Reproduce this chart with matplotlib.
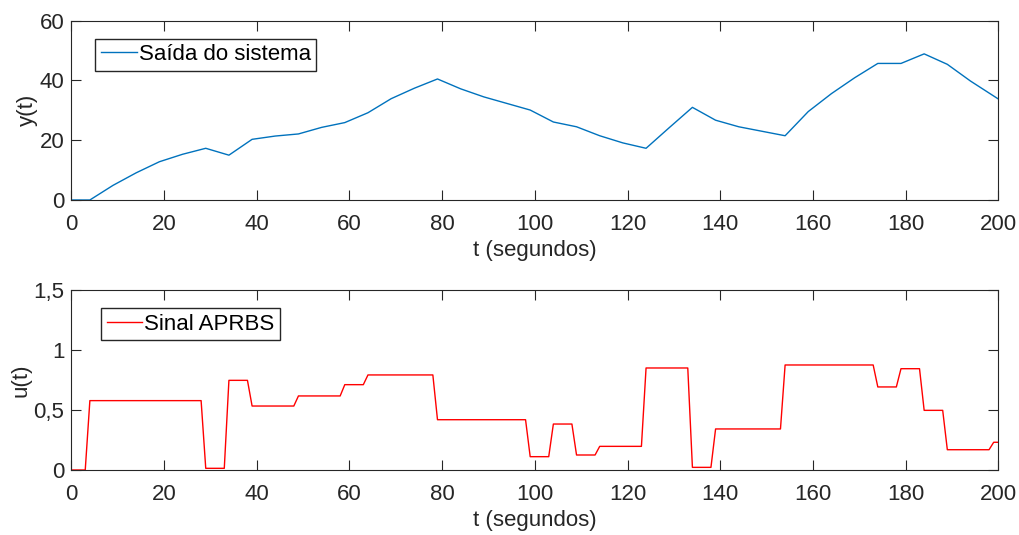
import numpy as np
import matplotlib.pyplot as plt
from matplotlib.ticker import FuncFormatter

# Saída do sistema (amostras a cada 5 s)
t_y = [0, 4, 9, 14, 19, 24, 29, 34, 39, 44, 49, 54, 59, 64, 69, 74, 79, 84, 89, 94,
       99, 104, 109, 114, 119, 124, 129, 134, 139, 144, 149, 154, 159, 164, 169, 174,
       179, 184, 189, 194, 199, 200]
y_vals = [0, 0, 4.9, 9.1, 12.8, 15.3, 17.3, 15.0, 20.3, 21.4, 22.1, 24.3, 25.9, 29.2,
          33.9, 37.4, 40.5, 37.2, 34.5, 32.3, 30.1, 26.1, 24.5, 21.5, 19.1, 17.3, 24.2,
          31.0, 26.7, 24.5, 23.0, 21.5, 29.6, 35.6, 40.9, 45.7, 45.7, 48.9, 45.4, 39.8,
          34.8, 33.8]

# Sinal APRBS: instantes de mudança e níveis
u_change = [0, 4, 29, 34, 39, 49, 59, 64, 79, 99, 104, 109, 114, 124, 134, 139, 154,
            174, 179, 184, 189, 199]
u_levels = [0, 0.578, 0.014, 0.747, 0.533, 0.617, 0.711, 0.792, 0.419, 0.111, 0.383,
            0.125, 0.197, 0.85, 0.022, 0.342, 0.875, 0.692, 0.844, 0.497, 0.169, 0.231]

t_u = np.arange(0, 201)
idx = np.searchsorted(u_change, t_u, side="right") - 1
u_vals = np.array(u_levels)[idx]

plt.rcParams['font.family'] = ['Liberation Sans', 'DejaVu Sans']
plt.rcParams['font.size'] = 16
cinza = '#262626'

fig = plt.figure(figsize=(10.19, 5.35), dpi=100)
ax1 = fig.add_axes([0.070, 0.6262, 0.9097, 0.3351])
ax2 = fig.add_axes([0.070, 0.1215, 0.9097, 0.3365])

ax1.plot(t_y, y_vals, color='#0072BD', linewidth=1, label='Saída do sistema')
ax1.set_xlim(0, 200)
ax1.set_ylim(0, 60)
ax1.set_xticks(range(0, 201, 20))
ax1.set_yticks([0, 20, 40, 60])
ax1.set_xlabel('t (segundos)')
ax1.set_ylabel('y(t)')
ax1.legend(loc='upper left', bbox_to_anchor=(0.026, 0.90), fancybox=False,
           edgecolor=cinza, framealpha=1, handlelength=1.6, handletextpad=0.1,
           borderpad=0.25, borderaxespad=0)

ax2.plot(t_u, u_vals, color='red', linewidth=1, label='Sinal APRBS')
ax2.set_xlim(0, 200)
ax2.set_ylim(0, 1.5)
ax2.set_xticks(range(0, 201, 20))
ax2.set_yticks([0, 0.5, 1, 1.5])
ax2.yaxis.set_major_formatter(FuncFormatter(lambda v, p: f'{v:g}'.replace('.', ',')))
ax2.set_xlabel('t (segundos)')
ax2.set_ylabel('u(t)')
ax2.legend(loc='upper left', bbox_to_anchor=(0.032, 0.9), fancybox=False,
           edgecolor=cinza, framealpha=1, handlelength=1.6, handletextpad=0.1,
           borderpad=0.25, borderaxespad=0)

for ax in (ax1, ax2):
    for s in ax.spines.values():
        s.set_color(cinza)
        s.set_linewidth(0.8)
    ax.tick_params(direction='in', length=7, width=0.8, colors=cinza,
                   top=True, right=True, labelcolor=cinza, pad=5)
    ax.tick_params(axis='x', pad=10)
    ax.xaxis.label.set_color(cinza)
    ax.yaxis.label.set_color(cinza)
    ax.xaxis.labelpad = 4
    ax.yaxis.labelpad = 1

fig.savefig('out.png', dpi=100)
